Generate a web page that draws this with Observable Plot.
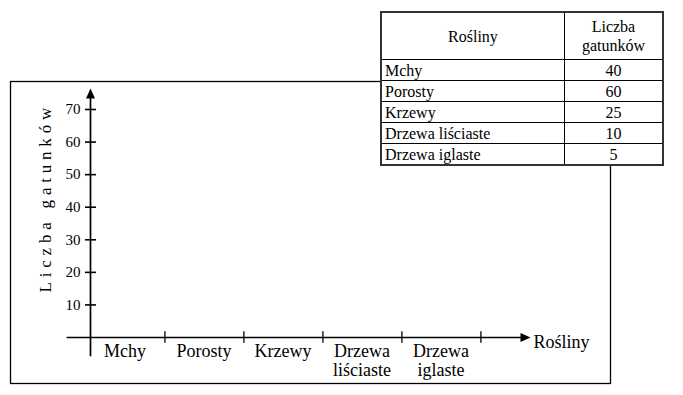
<!DOCTYPE html>
<html>
<head>
<meta charset="utf-8">
<script src="https://cdn.jsdelivr.net/npm/d3@7"></script>
<script src="https://cdn.jsdelivr.net/npm/@observablehq/plot@0.6"></script>
<style>
  html, body { margin: 0; padding: 0; background: #fff; }
  #wrap { position: relative; width: 683px; height: 395px; font-family: "Liberation Serif", "Times New Roman", serif; }
  #wrap svg { position: absolute; left: 0; top: 0; }
  #tbl { position: absolute; left: 380px; top: 11px; width: 284px; border-collapse: collapse; background: #fff;
         border: 2px solid #333; font-size: 16px; color: #000; font-family: "Liberation Serif", "Times New Roman", serif; }
  #tbl td, #tbl th { border: 1px solid #000; padding: 0 3px; font-weight: normal; line-height: 19px; }
  #tbl th { text-align: center; height: 46px; white-space: pre-line; }
  #tbl td { height: 20px; }
  #tbl td.v { text-align: center; }
</style>
</head>
<body>
<div id="wrap"></div>
<script>
// ---- data ----
const categories = ["Mchy", "Porosty", "Krzewy", "Drzewa liściaste", "Drzewa iglaste"];
const counts = [40, 60, 25, 10, 5];
const yTicks = [10, 20, 30, 40, 50, 60, 70];
const yTitle = "Liczba gatunków";
const xTitle = "Rośliny";
const tableHeader = ["Rośliny", "Liczba\ngatunków"];

// ---- chart ----
const xRange = [83, 482];
const bw = (xRange[1] - xRange[0]) / categories.length;
const arrowHead = {
  draw(ctx) { ctx.moveTo(0, -10); ctx.lineTo(4.5, 0); ctx.lineTo(-4.5, 0); ctx.closePath(); }
};

const chart = Plot.plot({
  width: 683,
  height: 395,
  marginLeft: 90,
  marginTop: 109,
  marginBottom: 58,
  marginRight: 0,
  style: { fontFamily: "Liberation Serif, Times New Roman, serif", background: "#fff", color: "#000", overflow: "visible" },
  x: { type: "band", domain: categories, range: xRange, padding: 0, axis: null },
  y: { domain: [0, 70], range: [337, 109] },
  marks: [
    Plot.frame({ insetLeft: -80, insetTop: -28, insetRight: 73, insetBottom: -46, strokeWidth: 1.3 }),
    Plot.frame({ anchor: "left", insetTop: -11, insetBottom: -18, strokeWidth: 1.7 }),
    Plot.frame({ anchor: "bottom", insetLeft: -23, insetRight: 163, strokeWidth: 1.7 }),
    Plot.dot([0], { frameAnchor: "top-left", dy: -11, symbol: arrowHead, fill: "#000", stroke: null, r: 5 }),
    Plot.dot([0], { frameAnchor: "bottom-right", dx: -163, rotate: 90, symbol: arrowHead, fill: "#000", stroke: null, r: 5 }),
    Plot.axisY({ ticks: yTicks, tickSize: 11, dx: 6, tickPadding: 5, fontSize: 15, strokeWidth: 1.6, label: null, tickFormat: d => String(d) }),
    Plot.ruleX(categories, { x: d => d, dx: bw / 2, y1: -1.8, y2: 1.8, strokeWidth: 1.3 }),
    Plot.text(categories, { x: d => d, frameAnchor: "bottom", text: d => d.replace(" ", "\n"), lineAnchor: "top", dy: 5, fontSize: 18, lineHeight: 1.1 }),
    Plot.text([xTitle], { frameAnchor: "bottom-right", dx: -150, dy: 10, textAnchor: "start", fontSize: 18 }),
    Plot.text([yTitle], { frameAnchor: "left", rotate: -90, dx: -45, dy: 69, textAnchor: "start", fontSize: 17 })
  ]
});

const wrap = document.getElementById("wrap");
wrap.appendChild(chart);
chart.querySelectorAll("text").forEach(t => {
  if (t.textContent === yTitle) t.style.letterSpacing = "4.8px";
});

// ---- table ----
const tbl = document.createElement("table");
tbl.id = "tbl";
const colgroup = document.createElement("colgroup");
[185, 99].forEach(w => { const c = document.createElement("col"); c.style.width = w + "px"; colgroup.appendChild(c); });
tbl.appendChild(colgroup);
const hr = document.createElement("tr");
tableHeader.forEach(h => { const th = document.createElement("th"); th.textContent = h; hr.appendChild(th); });
tbl.appendChild(hr);
categories.forEach((c, i) => {
  const tr = document.createElement("tr");
  const a = document.createElement("td"); a.textContent = c;
  const b = document.createElement("td"); b.textContent = counts[i]; b.className = "v";
  tr.appendChild(a); tr.appendChild(b);
  tbl.appendChild(tr);
});
wrap.appendChild(tbl);
</script>
</body>
</html>
